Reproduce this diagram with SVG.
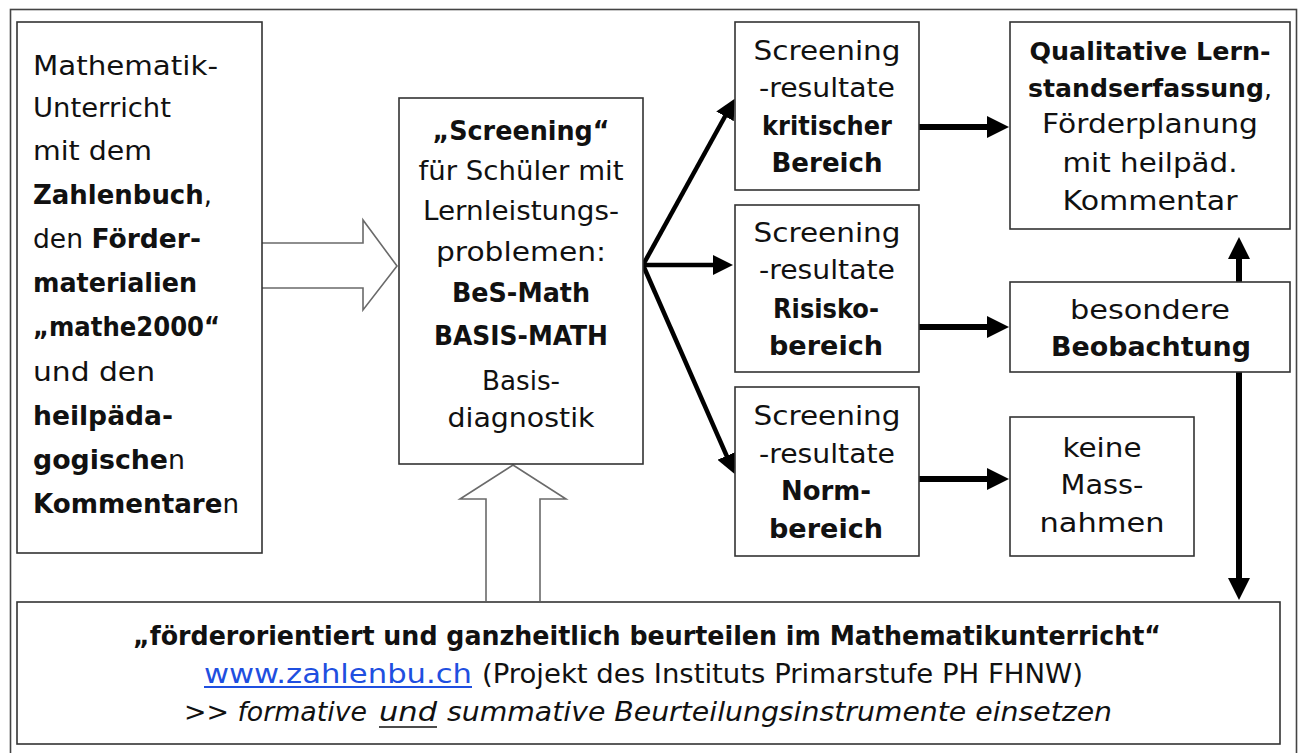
<svg xmlns="http://www.w3.org/2000/svg" width="1300" height="753" viewBox="0 0 1300 753">
<defs>
<style>
.t{font-family:"DejaVu Sans","Liberation Sans",sans-serif;font-size:26px;fill:#111}
.s{font-size:25px}
.b{font-weight:bold}
.i{font-style:italic}
.c{text-anchor:middle}
.box{fill:#fff;stroke:#333;stroke-width:1.6}
.hollow{fill:#fff;stroke:#6a6a6a;stroke-width:1.6;stroke-linejoin:miter}
.conn{stroke:#000;fill:none}
.thin{stroke-width:4.5}
.thick{stroke-width:6}
</style>
<marker id="ah" viewBox="0 -11 22 22" refX="1" refY="0" markerWidth="22" markerHeight="22" markerUnits="userSpaceOnUse" orient="auto">
<path d="M0,-11 L22,0 L0,11 Z" fill="#000"/>
</marker>
<marker id="ahs" viewBox="0 -10 20 20" refX="1" refY="0" markerWidth="20" markerHeight="20" markerUnits="userSpaceOnUse" orient="auto">
<path d="M0,-10 L20,0 L0,10 Z" fill="#000"/>
</marker>
</defs>
<rect x="0" y="0" width="1300" height="753" fill="#fff"/>
<rect x="10.5" y="9.5" width="1286" height="770" fill="none" stroke="#444" stroke-width="1.6"/>

<g id="connectors">
<path class="hollow" d="M262,243 L363,243 L363,220 L397,266 L363,310 L363,288 L262,288"/>
<path class="hollow" d="M486,601 L486,499 L460,499 L513,465 L566,499 L540,499 L540,601"/>
<line class="conn thin" x1="643" y1="265" x2="725.5" y2="115.5" marker-end="url(#ahs)"/>
<line class="conn thin" x1="643" y1="265" x2="714" y2="265" marker-end="url(#ahs)"/>
<line class="conn thin" x1="643" y1="265" x2="727" y2="456.7" marker-end="url(#ahs)"/>
<line class="conn thick" x1="919" y1="127" x2="988" y2="127" marker-end="url(#ah)"/>
<line class="conn thick" x1="919" y1="327" x2="988" y2="327" marker-end="url(#ah)"/>
<line class="conn thick" x1="919" y1="479" x2="988" y2="479" marker-end="url(#ah)"/>
<line class="conn thick" x1="1239" y1="282" x2="1239" y2="258" marker-end="url(#ah)"/>
<line class="conn thick" x1="1239" y1="372" x2="1239" y2="579" marker-end="url(#ah)"/>
</g>

<g id="node-unterricht">
<rect class="box" x="17" y="22" width="245" height="531"/>
<text class="t" x="33" y="75" textLength="185" lengthAdjust="spacingAndGlyphs">Mathematik-</text>
<text class="t" x="33" y="117" textLength="138" lengthAdjust="spacingAndGlyphs">Unterricht</text>
<text class="t" x="33" y="160" textLength="119" lengthAdjust="spacingAndGlyphs">mit dem</text>
<text class="t" x="33" y="204" textLength="179" lengthAdjust="spacingAndGlyphs"><tspan class="b">Zahlenbuch</tspan>,</text>
<text class="t" x="33" y="248" textLength="168" lengthAdjust="spacingAndGlyphs">den <tspan class="b">Förder-</tspan></text>
<text class="t b" x="33" y="292" textLength="164" lengthAdjust="spacingAndGlyphs">materialien</text>
<text class="t b" x="33" y="336" textLength="187" lengthAdjust="spacingAndGlyphs">„mathe2000“</text>
<text class="t" x="33" y="381" textLength="122" lengthAdjust="spacingAndGlyphs">und den</text>
<text class="t b" x="33" y="425" textLength="140" lengthAdjust="spacingAndGlyphs">heilpäda-</text>
<text class="t" x="33" y="469" textLength="152" lengthAdjust="spacingAndGlyphs"><tspan class="b">gogische</tspan>n</text>
<text class="t" x="33" y="513" textLength="206" lengthAdjust="spacingAndGlyphs"><tspan class="b">Kommentare</tspan>n</text>
</g>

<g id="node-screening">
<rect class="box" x="399" y="98" width="244" height="366"/>
<text class="t b c" x="521" y="140" textLength="177" lengthAdjust="spacingAndGlyphs">„Screening“</text>
<text class="t c" x="521" y="180" textLength="205" lengthAdjust="spacingAndGlyphs">für Schüler mit</text>
<text class="t c" x="521" y="220" textLength="196" lengthAdjust="spacingAndGlyphs">Lernleistungs-</text>
<text class="t c" x="521" y="261" textLength="170" lengthAdjust="spacingAndGlyphs">problemen:</text>
<text class="t b c" x="521" y="302" textLength="138" lengthAdjust="spacingAndGlyphs">BeS-Math</text>
<text class="t b c" x="521" y="345" textLength="174" lengthAdjust="spacingAndGlyphs">BASIS-MATH</text>
<text class="t c" x="521" y="390" textLength="78" lengthAdjust="spacingAndGlyphs">Basis-</text>
<text class="t c" x="521" y="427" textLength="147" lengthAdjust="spacingAndGlyphs">diagnostik</text>
</g>

<g id="node-kritisch">
<rect class="box" x="735" y="22" width="184" height="168"/>
<text class="t c" x="827" y="60" textLength="147" lengthAdjust="spacingAndGlyphs">Screening</text>
<text class="t c" x="827" y="97" textLength="136" lengthAdjust="spacingAndGlyphs">-resultate</text>
<text class="t b c" x="827" y="135" textLength="130" lengthAdjust="spacingAndGlyphs">kritischer</text>
<text class="t b c" x="827" y="172" textLength="111" lengthAdjust="spacingAndGlyphs">Bereich</text>
</g>

<g id="node-risiko">
<rect class="box" x="735" y="205" width="184" height="167"/>
<text class="t c" x="827" y="242" textLength="147" lengthAdjust="spacingAndGlyphs">Screening</text>
<text class="t c" x="827" y="279" textLength="136" lengthAdjust="spacingAndGlyphs">-resultate</text>
<text class="t b c" x="826" y="318" textLength="106" lengthAdjust="spacingAndGlyphs">Risisko-</text>
<text class="t b c" x="826" y="355" textLength="114" lengthAdjust="spacingAndGlyphs">bereich</text>
</g>

<g id="node-norm">
<rect class="box" x="735" y="387" width="184" height="169"/>
<text class="t c" x="827" y="425" textLength="147" lengthAdjust="spacingAndGlyphs">Screening</text>
<text class="t c" x="827" y="463" textLength="136" lengthAdjust="spacingAndGlyphs">-resultate</text>
<text class="t b c" x="826" y="500" textLength="90" lengthAdjust="spacingAndGlyphs">Norm-</text>
<text class="t b c" x="826" y="538" textLength="114" lengthAdjust="spacingAndGlyphs">bereich</text>
</g>

<g id="node-qualitativ">
<rect class="box" x="1010" y="22" width="280" height="207"/>
<text class="t s b c" x="1150" y="60" textLength="241" lengthAdjust="spacingAndGlyphs">Qualitative Lern-</text>
<text class="t s c" x="1150" y="97" textLength="244" lengthAdjust="spacingAndGlyphs"><tspan class="b">standserfassung</tspan>,</text>
<text class="t c" x="1150" y="133" textLength="216" lengthAdjust="spacingAndGlyphs">Förderplanung</text>
<text class="t c" x="1150" y="172" textLength="175" lengthAdjust="spacingAndGlyphs">mit heilpäd.</text>
<text class="t c" x="1150" y="210" textLength="175" lengthAdjust="spacingAndGlyphs">Kommentar</text>
</g>

<g id="node-beobachtung">
<rect class="box" x="1010" y="282" width="280" height="90"/>
<text class="t c" x="1150" y="319" textLength="160" lengthAdjust="spacingAndGlyphs">besondere</text>
<text class="t b c" x="1151" y="356" textLength="200" lengthAdjust="spacingAndGlyphs">Beobachtung</text>
</g>

<g id="node-keine">
<rect class="box" x="1010" y="417" width="184" height="139"/>
<text class="t c" x="1102" y="457" textLength="79" lengthAdjust="spacingAndGlyphs">keine</text>
<text class="t c" x="1102" y="494" textLength="83" lengthAdjust="spacingAndGlyphs">Mass-</text>
<text class="t c" x="1102" y="532" textLength="125" lengthAdjust="spacingAndGlyphs">nahmen</text>
</g>

<g id="node-beurteilen">
<rect class="box" x="17" y="602" width="1263" height="142"/>
<text class="t b c" x="647" y="645" textLength="1028" lengthAdjust="spacingAndGlyphs">„förderorientiert und ganzheitlich beurteilen im Mathematikunterricht“</text>
<text class="t" x="204" y="683" textLength="268" lengthAdjust="spacingAndGlyphs" style="fill:#1f4fe0">www.zahlenbu.ch</text>
<line x1="204" y1="687" x2="472" y2="687" stroke="#1f4fe0" stroke-width="2"/>
<text class="t" x="482" y="683" textLength="601" lengthAdjust="spacingAndGlyphs">(Projekt des Instituts Primarstufe PH FHNW)</text>
<text class="t i" x="184" y="721" textLength="183" lengthAdjust="spacingAndGlyphs">&gt;&gt; formative</text>
<text class="t i" x="379" y="721" textLength="58" lengthAdjust="spacingAndGlyphs">und</text>
<line x1="379" y1="727" x2="437" y2="727" stroke="#111" stroke-width="1.6"/>
<text class="t i" x="447" y="721" textLength="665" lengthAdjust="spacingAndGlyphs">summative Beurteilungsinstrumente einsetzen</text>
</g>
</svg>
